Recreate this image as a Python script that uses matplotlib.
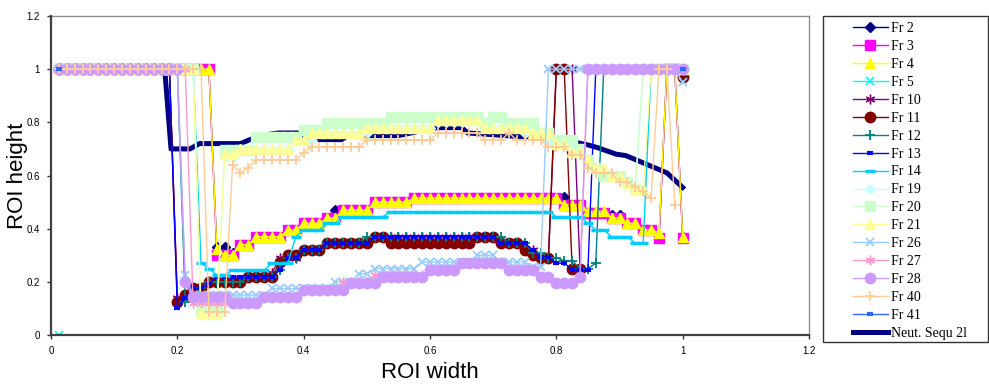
import numpy as np
import matplotlib
matplotlib.use("Agg")
import matplotlib.pyplot as plt
from matplotlib.patches import Rectangle

n_pts = 80
x_grid = np.arange(1, n_pts + 1) / n_pts

# step runs: (first point, last point, ROI height)
fr2 = [(1, 20, 1.0), (21, 22, 0.33), (23, 23, 0.31), (24, 25, 0.34), (26, 29, 0.37), (30, 31, 0.395),
       (32, 34, 0.42), (35, 35, 0.44), (36, 40, 0.47), (41, 45, 0.50), (46, 64, 0.515), (65, 65, 0.52),
       (66, 67, 0.49), (68, 70, 0.46), (71, 72, 0.45), (73, 74, 0.42), (75, 76, 0.395), (77, 77, 0.365),
       (78, 79, 1.0), (80, 80, 0.37)]
fr3 = [(1, 20, 1.0), (21, 23, 0.30), (24, 25, 0.34), (26, 29, 0.37), (30, 31, 0.395), (32, 34, 0.42),
       (35, 36, 0.44), (37, 40, 0.47), (41, 45, 0.50), (46, 64, 0.515), (65, 67, 0.49), (68, 70, 0.46),
       (71, 72, 0.44), (73, 74, 0.42), (75, 76, 0.395), (77, 77, 0.365), (78, 79, 1.0), (80, 80, 0.365)]
fr4 = [(1, 20, 1.0), (21, 21, 0.325), (22, 23, 0.30), (24, 25, 0.34), (26, 29, 0.37), (30, 31, 0.395),
       (32, 34, 0.42), (35, 36, 0.44), (37, 40, 0.47), (41, 45, 0.50), (46, 64, 0.515), (65, 67, 0.49),
       (68, 70, 0.465), (71, 72, 0.44), (73, 74, 0.42), (75, 76, 0.395), (77, 77, 0.385), (78, 79, 1.0),
       (80, 80, 0.37)]
fr5 = [(1, 1, 0.0)]
fr10 = [(1, 15, 1.0), (16, 16, 0.14), (17, 17, 0.15), (18, 19, 0.175), (20, 24, 0.20), (25, 27, 0.22),
        (28, 28, 0.235), (29, 31, 0.29), (32, 34, 0.32), (35, 40, 0.345), (41, 56, 0.37), (57, 59, 0.345),
        (60, 61, 0.32), (62, 63, 0.29), (64, 66, 1.0), (67, 67, 0.25)]
fr11 = [(1, 15, 1.0), (16, 16, 0.125), (17, 17, 0.15), (18, 19, 0.175), (20, 24, 0.20), (25, 28, 0.22),
        (29, 29, 0.275), (30, 31, 0.30), (32, 34, 0.32), (35, 40, 0.345), (41, 42, 0.37), (43, 53, 0.345),
        (54, 56, 0.37), (57, 59, 0.345), (60, 60, 0.32), (61, 61, 0.30), (62, 63, 0.29), (64, 65, 1.0),
        (66, 67, 0.25), (80, 80, 0.97)]
fr12 = [(1, 16, 1.0), (17, 17, 0.125), (18, 18, 0.15), (19, 19, 0.175), (20, 24, 0.20), (25, 28, 0.22),
        (29, 29, 0.245), (30, 31, 0.29), (32, 34, 0.32), (35, 39, 0.345), (40, 57, 0.37), (58, 60, 0.345),
        (61, 62, 0.31), (63, 64, 0.29), (65, 66, 0.28), (67, 68, 0.25), (69, 69, 0.27), (70, 80, 1.0)]
fr13 = [(1, 15, 1.0), (16, 16, 0.10), (17, 17, 0.14), (18, 19, 0.175), (20, 20, 0.19), (21, 28, 0.22),
        (29, 29, 0.245), (30, 31, 0.29), (32, 34, 0.32), (35, 40, 0.345), (41, 56, 0.37), (57, 60, 0.345),
        (61, 61, 0.32), (62, 63, 0.293), (64, 65, 0.27), (66, 68, 0.245), (69, 80, 1.0)]
fr14 = [(1, 18, 1.0), (19, 19, 0.27), (20, 20, 0.25), (21, 22, 0.225), (23, 27, 0.245), (28, 30, 0.27),
        (31, 31, 0.37), (32, 34, 0.395), (35, 36, 0.42), (37, 42, 0.445), (43, 63, 0.463), (64, 67, 0.445),
        (68, 68, 0.42), (69, 70, 0.395), (71, 73, 0.37), (74, 75, 0.345), (76, 80, 1.0)]
fr19 = [(1, 18, 1.0), (19, 21, 0.075), (22, 23, 0.67), (24, 30, 0.70), (31, 33, 0.73), (34, 40, 0.76),
        (41, 48, 0.78), (49, 54, 0.80), (55, 59, 0.78), (60, 62, 0.76), (63, 64, 0.73), (65, 66, 0.71),
        (67, 67, 0.68), (68, 68, 0.65), (69, 70, 0.62), (71, 72, 0.60), (73, 73, 0.57), (74, 74, 0.55),
        (75, 80, 1.0)]
fr20 = [(1, 18, 1.0), (19, 21, 0.09), (22, 25, 0.695), (26, 31, 0.745), (32, 34, 0.77), (35, 42, 0.797),
        (43, 54, 0.82), (55, 55, 0.797), (56, 57, 0.82), (58, 61, 0.797), (62, 63, 0.76), (64, 66, 0.733),
        (67, 67, 0.70), (68, 68, 0.66), (69, 69, 0.63), (70, 72, 0.60), (73, 73, 0.575), (74, 74, 0.55),
        (75, 80, 1.0)]
fr21 = [(1, 18, 1.0), (19, 21, 0.083), (22, 23, 0.68), (24, 30, 0.70), (31, 32, 0.733), (33, 39, 0.76),
        (40, 48, 0.78), (49, 54, 0.81), (55, 60, 0.78), (61, 63, 0.76), (64, 65, 0.72), (66, 67, 0.69),
        (68, 68, 0.66), (69, 70, 0.63), (71, 72, 0.60), (73, 73, 0.57), (74, 75, 0.55), (76, 80, 1.0)]
fr26 = [(1, 16, 1.0), (17, 17, 0.225), (18, 27, 0.15), (28, 35, 0.175), (36, 38, 0.20), (39, 40, 0.23),
        (41, 46, 0.25), (47, 53, 0.275), (54, 56, 0.30), (57, 60, 0.275), (61, 62, 0.255), (63, 79, 1.0),
        (80, 80, 0.95)]
fr27 = [(1, 17, 1.0), (18, 26, 0.12), (27, 31, 0.143), (32, 36, 0.17), (37, 40, 0.20), (41, 47, 0.225),
        (48, 51, 0.25), (52, 57, 0.27), (58, 61, 0.245), (62, 63, 0.22), (64, 66, 0.195), (67, 67, 0.22),
        (68, 80, 1.0)]
fr28 = [(1, 16, 1.0), (17, 17, 0.20), (18, 22, 0.143), (23, 26, 0.12), (27, 31, 0.143), (32, 37, 0.17),
        (38, 41, 0.195), (42, 47, 0.22), (48, 51, 0.245), (52, 57, 0.27), (58, 61, 0.245), (62, 63, 0.22),
        (64, 66, 0.195), (67, 67, 0.22), (68, 80, 1.0)]
fr40 = [(1, 19, 1.0), (20, 22, 0.087), (23, 23, 0.64), (24, 24, 0.61), (25, 25, 0.63), (26, 31, 0.66),
        (32, 32, 0.685), (33, 39, 0.707), (40, 48, 0.733), (49, 54, 0.76), (55, 57, 0.733), (58, 58, 0.76),
        (59, 62, 0.733), (63, 65, 0.707), (66, 67, 0.677), (68, 68, 0.63), (69, 71, 0.61), (72, 73, 0.575),
        (74, 74, 0.556), (75, 75, 0.54), (76, 76, 0.515), (77, 78, 1.0), (79, 79, 0.49)]
fr41 = [(1, 1, 1.0), (80, 80, 1.0)]

neut_x = [0.18, 0.19, 0.22, 0.235, 0.30, 0.33, 0.36, 0.39, 0.40, 0.46, 0.47, 0.55, 0.61, 0.65, 0.66,
          0.72, 0.78, 0.82, 0.85, 0.865, 0.895, 0.91, 0.93, 0.975, 1.0]
neut_y = [1.0, 0.70, 0.70, 0.72, 0.72, 0.75, 0.76, 0.76, 0.735, 0.735, 0.75, 0.75, 0.78, 0.78, 0.76,
          0.75, 0.74, 0.73, 0.715, 0.705, 0.68, 0.675, 0.655, 0.61, 0.555]

ast = (6, 2, 0)
series = [
    ("Fr 2", fr2, "#000080", "D", 5.5, 1),
    ("Fr 3", fr3, "#FF00FF", "s", 6.5, 1),
    ("Fr 4", fr4, "#FFFF00", "^", 7.5, 1),
    ("Fr 5", fr5, "#00FFFF", "x", 6, 1.3),
    ("Fr 10", fr10, "#800080", ast, 7, 1),
    ("Fr 11", fr11, "#800000", "o", 7.5, 1),
    ("Fr 12", fr12, "#008080", "+", 7.5, 1.3),
    ("Fr 13", fr13, "#0000FF", "_", 5, 3),
    ("Fr 14", fr14, "#00CCFF", "_", 7, 2.5),
    ("Fr 19", fr19, "#CCFFFF", "D", 5.5, 1),
    ("Fr 20", fr20, "#CCFFCC", "s", 6.5, 1),
    ("Fr 21", fr21, "#FFFF99", "^", 7.5, 1),
    ("Fr 26", fr26, "#99CCFF", "x", 6, 1.3),
    ("Fr 27", fr27, "#FF99CC", ast, 7, 1),
    ("Fr 28", fr28, "#CC99FF", "o", 7.5, 1),
    ("Fr 40", fr40, "#FFCC99", "+", 7.5, 1.3),
    ("Fr 41", fr41, "#3366FF", "_", 5, 3),
]

fig = plt.figure(figsize=(9.89, 3.90), dpi=100)
ax = fig.add_axes([51 / 989, 55 / 390, 758 / 989, 319 / 390])

handles = []
for k, (name, runs, col, mk, ms, mew) in enumerate(series):
    y = np.full(n_pts, np.nan)
    for a, b, v in runs:
        y[a - 1:b] = v
    h, = ax.plot(x_grid, y, color=col, lw=1, marker=mk, ms=ms, mfc=col, mec=col, mew=mew,
                 label=name, zorder=3 + k * 0.01)
    handles.append(h)
# the thick sequence line sits under the frame markers
h, = ax.plot(neut_x, neut_y, color="#000080", lw=3.6, solid_joinstyle="round",
             label="Neut. Sequ 2l", zorder=2)
handles.append(h)

ax.set_xlim(0, 1.2)
ax.set_ylim(0, 1.2)
ax.set_xticks(np.arange(0, 1.21, 0.2))
ax.set_yticks(np.arange(0, 1.21, 0.2))
ax.set_xticklabels(["0", "0.2", "0.4", "0.6", "0.8", "1", "1.2"])
ax.set_yticklabels(["0", "0.2", "0.4", "0.6", "0.8", "1", "1.2"])
ax.tick_params(direction="out", length=3, width=1, colors="#333333", labelsize=7, pad=5)
for lab in ax.get_xticklabels() + ax.get_yticklabels():
    lab.set_fontfamily("Liberation Sans")
    lab.set_color("black")
for s in ["left", "bottom"]:
    ax.spines[s].set_color("#404040")
    ax.spines[s].set_linewidth(1.6)
    ax.spines[s].set_zorder(5)
for s in ["top", "right"]:
    ax.spines[s].set_color("#909090")
    ax.spines[s].set_linewidth(1)
ax.set_xlabel("ROI width", fontsize=16, family="Liberation Sans", labelpad=4)
ax.set_ylabel("ROI height", fontsize=16, family="Liberation Sans")
ax.yaxis.set_label_coords(-0.03, 0.5)

fig.patches.append(Rectangle((823 / 989, 48 / 390), 165 / 989, 326 / 390, transform=fig.transFigure,
                             fill=False, ec="#333333", lw=1))
fig.legend(handles=handles, loc="upper left", bbox_to_anchor=(853 / 989, 368 / 390), frameon=False,
           prop={"family": "Liberation Serif", "size": 10}, handlelength=2.5, handletextpad=0.25,
           labelspacing=0.355, borderpad=0, borderaxespad=0)

plt.savefig("out.png", dpi=100)
